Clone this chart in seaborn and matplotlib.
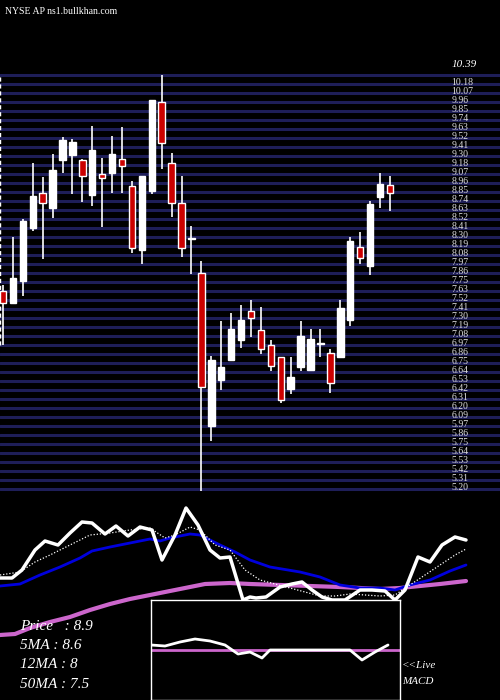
import numpy as np
import matplotlib
matplotlib.use("Agg")
import matplotlib.pyplot as plt
import seaborn as sns

sns.set_style("dark")
plt.rcParams['font.family'] = ['Liberation Serif', 'DejaVu Serif']

opens  = [7.63,7.49,7.76,8.41,8.84,8.66,9.25,9.31,9.25,8.82,9.07,9.09,9.26,8.93,8.14,8.86,9.96,9.21,8.72,8.27,
          7.86,5.97,6.54,6.79,7.03,7.39,7.16,6.97,6.82,6.43,6.70,6.66,6.98,6.87,6.82,7.28,8.18,7.94,8.79,8.94]
closes = [7.49,7.79,8.50,8.80,8.72,9.12,9.49,9.47,9.05,9.37,9.02,9.32,9.17,8.16,9.05,9.98,9.46,8.72,8.16,8.27,
          6.45,6.79,6.70,7.17,7.28,7.30,6.92,6.71,6.29,6.58,7.08,7.04,6.98,6.50,7.43,8.25,8.04,8.70,8.95,8.84]
highs  = [7.71,8.30,8.52,9.21,9.04,9.32,9.53,9.50,9.26,9.66,9.27,9.54,9.65,8.99,9.05,9.98,10.29,9.33,9.05,8.43,
          8.00,6.83,7.27,7.36,7.46,7.52,7.44,7.03,6.82,6.82,7.27,7.17,7.17,6.92,7.52,8.30,8.36,8.74,9.09,9.05]
lows   = [6.97,7.49,7.57,8.37,8.03,8.53,9.09,8.83,8.73,8.68,8.42,8.84,8.84,8.10,7.97,8.83,9.14,8.55,8.05,7.84,
          5.18,5.79,6.42,6.79,6.93,7.07,6.86,6.65,6.26,6.37,6.65,6.66,6.82,6.38,6.82,7.20,7.97,7.83,8.66,8.62]

price_t = [0,12,22,35,45,58,70,82,92,105,116,128,140,152,162,175,186,198,210,220,230,243,250,256,266,280,292,302,312,322,332,345,360,372,385,395,405,418,430,442,455,466]
price_v = [78,78,70,50,41,45,33,22,23,34,26,36,27,30,60,35,8,25,50,58,57,100,97,98,97,87,84,82,90,97,100,100,90,90,91,100,90,57,62,45,37,40]
ma5_t = [0,20,35,50,70,90,110,130,150,165,175,190,200,215,230,245,260,275,290,305,320,335,350,365,380,395,410,425,440,455,466]
ma5_v = [75,72,62,55,45,35,33,30,28,38,35,27,30,45,50,70,80,84,88,92,96,96,94,95,96,95,85,75,65,55,49]
ma12_t = [0,20,40,60,80,92,110,130,150,160,170,190,200,220,235,250,270,300,320,340,360,380,395,410,430,450,466]
ma12_v = [86,84,75,67,58,51,47,43,39,41,38,34,35,45,52,60,67,72,77,85,88,88,90,85,80,71,65]
ma50_t = [0,15,30,50,70,90,110,130,150,170,190,205,230,250,280,310,340,360,380,400,420,440,466]
ma50_v = [135,134,128,122,117,110,104,99,95,91,87,84,83,84,85,86,87,88,89,88,86,84,81]
macd_t = [151,165,180,195,210,225,238,250,262,270,290,350,362,375,388]
macd_v = [145,146,142,139,141,145,154,152,158,150,150,150,160,152,145]
signal_v = 150
info_labels = ["Price   : 8.9", "5MA : 8.6", "12MA : 8", "50MA : 7.5"]

fig = plt.figure(figsize=(5, 7), dpi=100, facecolor='black')

ax = fig.add_axes([0, 200/700, 1, 500/700])
ax.set_facecolor('black')
k = 0.0123
y0, y1 = 10.39 - 433*k, 10.39 + 67*k
ax.set_ylim(y0, y1)
ax.set_xlim(-0.3, 50.1)
grid = 10.39 - k*(75 - 67) - np.arange(47) * 9 * k
for g in grid:
    ax.axhline(g, color='#1e1e58', lw=2.2, zorder=0)
x = np.arange(len(opens))
o = np.array(opens); c = np.array(closes)
up = c >= o
ax.vlines(x, lows, highs, color='white', lw=1.2, zorder=2)
bot = np.minimum(o, c); hgt = np.maximum(np.abs(c - o), 0.02)
ax.bar(x[up], hgt[up], bottom=bot[up], width=0.65, color='white', edgecolor='white', lw=1, zorder=3)
ax.bar(x[~up], hgt[~up], bottom=bot[~up], width=0.65, color='#cc0000', edgecolor='white', lw=1, zorder=3)
ax.axvline(-0.28, ymin=155/500, ymax=425/500, color='white', lw=1, ls=(0, (3, 2)))
for i, g in enumerate(grid[1:]):
    ax.text(45.2, g + 0.02, f"{g:.2f}", color='#dddddd', fontsize=7, va='center', ha='left')
ax.text(45.2, 10.42, "10.39", color='white', fontsize=8, va='center', ha='left', style='italic')
ax.text(0.01, 0.985, "NYSE AP ns1.bullkhan.com", transform=ax.transAxes, color='white', fontsize=7, va='top')
ax.set_xticks([]); ax.set_yticks([])
for s in ax.spines.values():
    s.set_visible(False)

ax2 = fig.add_axes([0, 0, 1, 200/700])
ax2.set_facecolor('black')
ax2.set_xlim(0, 500); ax2.set_ylim(200, 0)
sns.lineplot(x=ma50_t, y=ma50_v, ax=ax2, color='#cc66cc', lw=3)
sns.lineplot(x=ma12_t, y=ma12_v, ax=ax2, color='#0000dd', lw=2)
sns.lineplot(x=ma5_t, y=ma5_v, ax=ax2, color='white', lw=0.9, ls=(0, (1, 1.5)))
sns.lineplot(x=price_t, y=price_v, ax=ax2, color='white', lw=2.5)
ax2.set_xticks([]); ax2.set_yticks([]); ax2.set_xlabel(''); ax2.set_ylabel('')
for s in ax2.spines.values():
    s.set_visible(False)
for i, t in enumerate(info_labels):
    ax2.text(20, 126 + i*19.5, t, color='white', fontsize=11, style='italic', va='center')
ax2.text(402, 166, "<<Live", color='white', fontsize=8, style='italic', va='center')
ax2.text(402, 181, "MACD", color='white', fontsize=8, style='italic', va='center')

ax3 = fig.add_axes([151/500, 0, 249/500, 100/700])
ax3.set_facecolor('black')
ax3.set_xlim(151, 400); ax3.set_ylim(200, 100)
ax3.axhline(signal_v, color='#cc66cc', lw=2)
sns.lineplot(x=macd_t, y=macd_v, ax=ax3, color='white', lw=2)
ax3.set_xticks([]); ax3.set_yticks([]); ax3.set_xlabel(''); ax3.set_ylabel('')
for s in ax3.spines.values():
    s.set_color('white'); s.set_linewidth(1)

fig.savefig("out.png", facecolor='black')
